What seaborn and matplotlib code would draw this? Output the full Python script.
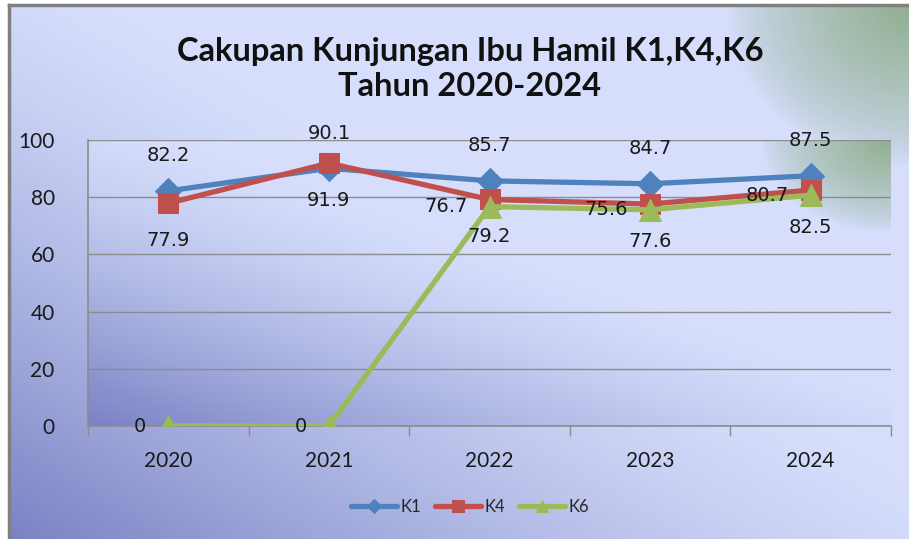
import numpy as np
import pandas as pd
import matplotlib
matplotlib.use("Agg")
import matplotlib.pyplot as plt
import seaborn as sns

# Chart data
years = ["2020", "2021", "2022", "2023", "2024"]
k1 = [82.2, 90.1, 85.7, 84.7, 87.5]
k4 = [77.9, 91.9, 79.2, 77.6, 82.5]
k6 = [0, 0, 76.7, 75.6, 80.7]
y_ticks = [0, 20, 40, 60, 80, 100]
title = "Cakupan Kunjungan Ibu Hamil K1,K4,K6\nTahun 2020-2024"

colors = {"K1": "#4F81BD", "K4": "#C0504D", "K6": "#9BBB59"}
markers = {"K1": "D", "K4": "s", "K6": "^"}
msizes = {"K1": 13, "K4": 14.5, "K6": 16}

sns.set_theme(style="white")
plt.rcParams["font.family"] = ["Lato", "DejaVu Sans"]

LIGHT = np.array([214, 222, 252]) / 255
DARK = np.array([122, 130, 196]) / 255
GREEN = np.array([146, 176, 146]) / 255


def gradient(w, h, gx, gy, power=1.3):
    u = np.linspace(0, 1, w)[None, :]
    v = np.linspace(1, 0, h)[:, None]
    d = np.clip(1 - (u + v) / 1.1, 0, 1) ** power
    img = LIGHT * (1 - d[..., None]) + DARK * d[..., None]
    g = np.clip(1 - np.sqrt(((1 - u) / gx) ** 2 + ((1 - v) / gy) ** 2), 0, 1) ** 0.7
    img = img * (1 - g[..., None]) + GREEN * g[..., None]
    return img


fig = plt.figure(figsize=(9.09, 5.39), dpi=100)
fig.patch.set_facecolor("white")

# chart area background with border
bg = fig.add_axes([9 / 909, 0, 900 / 909, 534 / 539], zorder=-10)
bg.imshow(gradient(400, 240, 0.2, 0.3), extent=(0, 1, 0, 1), aspect="auto")
bg.set_xlim(0, 1)
bg.set_ylim(0, 1)
bg.set_xticks([])
bg.set_yticks([])
for side in ["right", "bottom"]:
    bg.spines[side].set_visible(False)
for side in ["left", "top"]:
    bg.spines[side].set_color("#808080")
    bg.spines[side].set_linewidth(2.5)

ax = fig.add_axes([88 / 909, 1 - 426 / 539, 803 / 909, 286 / 539])
ax.patch.set_alpha(0)
ax.imshow(gradient(400, 200, 0.16, 0.32), extent=(-0.5, 4.5, 0, 100),
          aspect="auto", zorder=0)

df = pd.DataFrame({"Tahun": years, "K1": k1, "K4": k4, "K6": k6})
for name in ["K1", "K4", "K6"]:
    sns.lineplot(data=df, x="Tahun", y=name, ax=ax, color=colors[name],
                 linewidth=3.8, marker=markers[name], markersize=msizes[name],
                 markeredgecolor=colors[name], label=name, zorder=3,
                 sort=False)

# data labels
lab_kw = dict(textcoords="offset pixels", fontsize=14, color="#1a1a1a",
              family=["DejaVu Sans"], va="center", zorder=5)
for i, v in enumerate(k1):
    ax.annotate(f"{v:g}", (i, v), xytext=(0, 35), ha="center", **lab_kw)
for i, v in enumerate(k4):
    ax.annotate(f"{v:g}", (i, v), xytext=(0, -37), ha="center", **lab_kw)
for i, v in enumerate(k6):
    ax.annotate(f"{v:g}", (i, v), xytext=(-22, 0), ha="right", **lab_kw)

ax.set_xlim(-0.5, 4.5)
ax.set_ylim(0, 100)
ax.set_yticks(y_ticks)
ax.set_xticks(range(len(years)))
ax.set_xticklabels(years)
ax.set_xticks(np.arange(-0.5, 5, 1), minor=True)
ax.set_xlabel("")
ax.set_ylabel("")
ax.grid(axis="y", color="#8c8c8c", linewidth=1, zorder=1)
ax.set_axisbelow(True)
for side in ["top", "right"]:
    ax.spines[side].set_visible(False)
for side in ["left", "bottom"]:
    ax.spines[side].set_color("#8c8c8c")
    ax.spines[side].set_linewidth(1.2)
ax.tick_params(axis="x", which="major", length=0, pad=18, labelsize=15,
               labelcolor="#1a1a1a")
ax.tick_params(axis="x", which="minor", length=7, color="#8c8c8c",
               direction="out", bottom=True)
ax.tick_params(axis="y", length=0, pad=24, labelsize=15, labelcolor="#1a1a1a")

leg = ax.legend(loc="center", bbox_to_anchor=(470 / 909, 1 - 507 / 539),
                bbox_transform=fig.transFigure, ncol=3, frameon=False,
                fontsize=12, handlelength=2.8, columnspacing=0.8,
                handletextpad=0.2, markerscale=0.55)

fig.text(470 / 909, 1 - 69 / 539, title, ha="center", va="center",
         fontsize=23.5, fontweight="bold", color="#111111", linespacing=1.25)

fig.savefig("out.png", dpi=100)
